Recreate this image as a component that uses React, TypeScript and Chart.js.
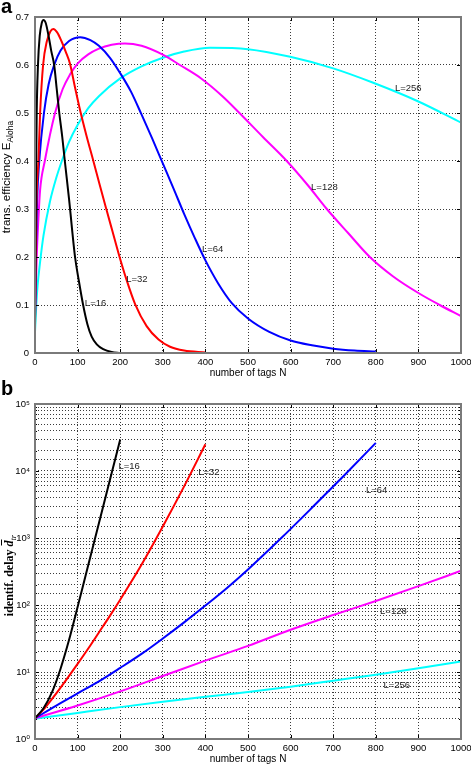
import React, { useEffect, useRef } from 'react';
import { Chart, registerables } from 'chart.js';

Chart.register(...registerables);

const SANS = '"Liberation Sans", Arial, "DejaVu Sans", sans-serif';
const SERIF = '"Liberation Serif", "Times New Roman", "DejaVu Serif", serif';

// ---------- Panel a: transmission efficiency ----------
const xTicksN = [0, 100, 200, 300, 400, 500, 600, 700, 800, 900, 1000];

const effN16 = [0, 2, 4, 7, 11, 16, 20, 25, 32, 38, 45, 51, 57, 64, 70, 80, 94, 103, 113, 123, 133, 145, 160, 180, 200];
const effE16 = [0.05, 0.33, 0.5, 0.6, 0.66, 0.688, 0.694, 0.688, 0.66, 0.63, 0.6, 0.55, 0.5, 0.45, 0.4, 0.32, 0.2, 0.15, 0.1, 0.06, 0.034, 0.018, 0.008, 0.002, 0.0];

const effN32 = [0, 3, 8, 12, 19, 28, 36, 43, 52, 62, 72, 82, 94, 106, 121, 137, 152, 168, 182, 196, 214, 235, 262, 290, 317, 350, 400];
const effE32 = [0.06, 0.3, 0.4, 0.5, 0.6, 0.65, 0.67, 0.675, 0.668, 0.65, 0.628, 0.603, 0.553, 0.505, 0.452, 0.4, 0.35, 0.298, 0.253, 0.208, 0.155, 0.102, 0.056, 0.028, 0.013, 0.005, 0.001];

const effN64 = [0, 2, 5, 10, 21, 32, 45, 60, 80, 106, 130, 150, 176, 200, 225, 250, 275, 300, 325, 350, 375, 400, 430, 462, 500, 550, 600, 650, 700, 750, 800];
const effE64 = [0.07, 0.2, 0.32, 0.4, 0.5, 0.56, 0.6, 0.63, 0.65, 0.658, 0.652, 0.64, 0.615, 0.583, 0.545, 0.497, 0.447, 0.395, 0.343, 0.29, 0.24, 0.193, 0.145, 0.104, 0.072, 0.044, 0.026, 0.016, 0.009, 0.005, 0.003];

const effN128 = [0, 4, 8, 12, 23, 47, 65, 82, 100, 125, 150, 180, 211, 250, 301, 340, 390, 440, 480, 535, 591, 640, 685, 735, 786, 840, 900, 950, 1000];
const effE128 = [0.08, 0.2, 0.28, 0.34, 0.4, 0.5, 0.55, 0.58, 0.603, 0.622, 0.634, 0.642, 0.645, 0.64, 0.621, 0.6, 0.572, 0.535, 0.5, 0.45, 0.4, 0.35, 0.3, 0.25, 0.2, 0.16, 0.125, 0.1, 0.077];

const effN256 = [0, 3, 6, 12, 20, 35, 50, 63, 80, 100, 125, 150, 200, 250, 300, 350, 411, 500, 599, 700, 794, 900, 1000];
const effE256 = [0.044, 0.1, 0.14, 0.19, 0.245, 0.315, 0.365, 0.4, 0.44, 0.475, 0.51, 0.535, 0.572, 0.597, 0.615, 0.628, 0.636, 0.633, 0.617, 0.593, 0.563, 0.524, 0.48];

const effYTicks = [0, 0.1, 0.2, 0.3, 0.4, 0.5, 0.6, 0.7];
const effLabelText = ['L=16', 'L=32', 'L=64', 'L=128', 'L=256'];
const effLabelN = [117, 214, 392, 648, 845];
const effLabelE = [0.104, 0.154, 0.215, 0.346, 0.552];

// ---------- Panel b: identification delay ----------
const delN16 = [0, 20, 40, 60, 80, 100, 120, 140, 160, 180, 200];
const delD16 = [2.04, 2.88, 5.0, 11.2, 30.2, 93, 295, 933, 2950, 9330, 29500];

const delN32 = [0, 25, 50, 75, 100, 125, 150, 175, 200, 250, 300, 350, 400];
const delD32 = [2.04, 3.0, 4.8, 7.9, 13.2, 22.4, 38.9, 67.6, 120, 398, 1480, 5890, 25100];

const delN64 = [0, 50, 100, 150, 200, 250, 300, 350, 400, 450, 500, 575, 650, 725, 800];
const delD64 = [2.04, 3.16, 4.79, 7.24, 11.5, 18.6, 31.6, 55, 98, 178, 339, 955, 2820, 8510, 26300];

const delN128 = [0, 100, 200, 300, 400, 500, 600, 700, 800, 900, 1000];
const delD128 = [2.04, 3.16, 5.13, 8.71, 14.8, 24.5, 42.7, 70.8, 115, 191, 324];

const delN256 = [0, 100, 200, 300, 400, 500, 600, 700, 800, 900, 1000];
const delD256 = [2.0, 2.45, 2.99, 3.59, 4.27, 5.01, 6.03, 7.41, 9.12, 11.35, 14.3];

const delLabelText = ['L=16', 'L=32', 'L=64', 'L=128', 'L=256'];
const delLabelN = [196, 383, 777, 810, 818];
const delLabelD = [11800, 9660, 5200, 79, 6.4];

const SUP = ['⁰', '¹', '²', '³', '⁴', '⁵', '⁶'];
const COLORS = ['#000000', '#ff0000', '#0000ff', '#ff00ff', '#00ffff'];

function makeDataset(xs: number[], ys: number[], color: string) {
  return {
    data: xs.map((x, i) => ({ x, y: ys[i] })),
    borderColor: color,
    backgroundColor: color,
    borderWidth: 2,
    pointRadius: 0,
    fill: false,
    cubicInterpolationMode: 'monotone' as const,
  };
}

type PanelOpts = {
  labels: string[];
  lx: number[];
  ly: number[];
  log: boolean;
  drawYTitle: (ctx: CanvasRenderingContext2D, cx: number, cy: number) => void;
  yTitleX: number;
  yTitleDY: number;
  letter: string;
  letterY: number;
};

function panelPlugin(o: PanelOpts) {
  return {
    id: 'panelDecor',
    afterDatasetsDraw(chart: any) {
      const { ctx, chartArea: a, scales } = chart;
      const xs = scales.x;
      const ys = scales.y;
      ctx.save();
      ctx.font = `9.5px ${SANS}`;
      ctx.fillStyle = '#222';
      ctx.textAlign = 'left';
      ctx.textBaseline = 'middle';
      o.labels.forEach((t, i) => {
        ctx.fillText(t, xs.getPixelForValue(o.lx[i]), ys.getPixelForValue(o.ly[i]));
      });
      ctx.strokeStyle = '#000';
      ctx.lineWidth = 1;
      ctx.beginPath();
      xs.ticks.forEach((t: any) => {
        const x = Math.round(xs.getPixelForValue(t.value)) + 0.5;
        ctx.moveTo(x, a.bottom);
        ctx.lineTo(x, a.bottom - 4);
        ctx.moveTo(x, a.top);
        ctx.lineTo(x, a.top + 4);
      });
      ys.ticks.forEach((t: any) => {
        let len = 4;
        if (o.log) {
          const l = Math.log10(t.value);
          len = Math.abs(l - Math.round(l)) < 1e-9 ? 4 : 2;
        }
        const y = Math.round(ys.getPixelForValue(t.value)) + 0.5;
        ctx.moveTo(a.left, y);
        ctx.lineTo(a.left + len, y);
        ctx.moveTo(a.right, y);
        ctx.lineTo(a.right - len, y);
      });
      ctx.stroke();
      ctx.strokeStyle = '#7a7a7a';
      ctx.lineWidth = 2;
      ctx.strokeRect(a.left, a.top, a.right - a.left, a.bottom - a.top);
      ctx.fillStyle = '#000';
      ctx.font = `10px ${SANS}`;
      ctx.textAlign = 'center';
      ctx.textBaseline = 'middle';
      ctx.fillText('number of tags N', (a.left + a.right) / 2, a.bottom + 20);
      o.drawYTitle(ctx, o.yTitleX, (a.top + a.bottom) / 2 + o.yTitleDY);
      ctx.font = `bold 20px ${SANS}`;
      ctx.textAlign = 'left';
      ctx.textBaseline = 'alphabetic';
      ctx.fillStyle = '#000';
      ctx.fillText(o.letter, 1, o.letterY);
      ctx.restore();
    },
  };
}

function drawEffTitle(ctx: CanvasRenderingContext2D, cx: number, cy: number) {
  const main = 'trans. efficiency E';
  const sub = 'Aloha';
  ctx.save();
  ctx.translate(cx, cy);
  ctx.rotate(-Math.PI / 2);
  ctx.fillStyle = '#000';
  ctx.textAlign = 'left';
  ctx.textBaseline = 'alphabetic';
  ctx.font = `11.5px ${SANS}`;
  const w1 = ctx.measureText(main).width;
  ctx.font = `8.5px ${SANS}`;
  const w2 = ctx.measureText(sub).width;
  const start = -(w1 + w2) / 2;
  ctx.font = `11.5px ${SANS}`;
  ctx.fillText(main, start, 4);
  ctx.font = `8.5px ${SANS}`;
  ctx.fillText(sub, start + w1, 7);
  ctx.restore();
}

function drawDelayTitle(ctx: CanvasRenderingContext2D, cx: number, cy: number) {
  const main = 'identif. delay ';
  ctx.save();
  ctx.translate(cx, cy);
  ctx.rotate(-Math.PI / 2);
  ctx.fillStyle = '#000';
  ctx.strokeStyle = '#000';
  ctx.textAlign = 'left';
  ctx.textBaseline = 'alphabetic';
  ctx.font = `bold 12px ${SERIF}`;
  const w1 = ctx.measureText(main).width;
  ctx.font = `italic bold 12px ${SERIF}`;
  const wd = ctx.measureText('d').width;
  ctx.font = `italic 8.5px ${SERIF}`;
  const ws = ctx.measureText('tr').width;
  const start = -(w1 + wd + ws) / 2;
  ctx.font = `bold 12px ${SERIF}`;
  ctx.fillText(main, start, 4);
  ctx.font = `italic bold 12px ${SERIF}`;
  ctx.fillText('d', start + w1, 4);
  ctx.lineWidth = 1;
  ctx.beginPath();
  ctx.moveTo(start + w1 + 1, -7.5);
  ctx.lineTo(start + w1 + wd + 1, -7.5);
  ctx.stroke();
  ctx.font = `italic 8.5px ${SERIF}`;
  ctx.fillText('tr', start + w1 + wd, 7);
  ctx.restore();
}

const GRID = {
  color: '#3a3a3a',
  lineWidth: 1,
  drawTicks: false,
};

function xScale(height: number): any {
  return {
    type: 'linear',
    min: xTicksN[0],
    max: xTicksN[xTicksN.length - 1],
    afterBuildTicks: (s: any) => { s.ticks = xTicksN.map((v) => ({ value: v })); },
    ticks: { font: { family: SANS, size: 9.5 }, color: '#000', padding: 4, maxRotation: 0, autoSkip: false, callback: (v: any) => String(v) },
    grid: GRID,
    border: { display: false, dash: [1, 2] },
    afterFit: (s: any) => { s.height = height; s.paddingLeft = 0; s.paddingRight = 0; },
  };
}

function configA(): any {
  return {
    type: 'line',
    data: {
      datasets: [
        makeDataset(effN16, effE16, COLORS[0]),
        makeDataset(effN32, effE32, COLORS[1]),
        makeDataset(effN64, effE64, COLORS[2]),
        makeDataset(effN128, effE128, COLORS[3]),
        makeDataset(effN256, effE256, COLORS[4]),
      ],
    },
    options: {
      animation: false,
      responsive: false,
      devicePixelRatio: 1,
      events: [],
      layout: { padding: { left: 0, right: 10, top: 17, bottom: 0 } },
      plugins: { legend: { display: false }, tooltip: { enabled: false } },
      scales: {
        x: xScale(25),
        y: {
          type: 'linear',
          min: effYTicks[0],
          max: effYTicks[effYTicks.length - 1],
          afterBuildTicks: (s: any) => { s.ticks = effYTicks.map((v) => ({ value: v })); },
          ticks: { font: { family: SANS, size: 9.5 }, color: '#000', padding: 6, autoSkip: false, callback: (v: any) => String(Number(Number(v).toFixed(1))) },
          grid: GRID,
          border: { display: false, dash: [1, 2] },
          afterFit: (s: any) => { s.width = 35; s.paddingTop = 0; s.paddingBottom = 0; },
        },
      },
    },
    plugins: [
      panelPlugin({
        labels: effLabelText, lx: effLabelN, ly: effLabelE, log: false,
        drawYTitle: drawEffTitle, yTitleX: 6, yTitleDY: -8, letter: 'a', letterY: 13,
      }),
    ],
  };
}

function configB(): any {
  return {
    type: 'line',
    data: {
      datasets: [
        makeDataset(delN16, delD16, COLORS[0]),
        makeDataset(delN32, delD32, COLORS[1]),
        makeDataset(delN64, delD64, COLORS[2]),
        makeDataset(delN128, delD128, COLORS[3]),
        makeDataset(delN256, delD256, COLORS[4]),
      ],
    },
    options: {
      animation: false,
      responsive: false,
      devicePixelRatio: 1,
      events: [],
      layout: { padding: { left: 0, right: 10, top: 26, bottom: 0 } },
      plugins: { legend: { display: false }, tooltip: { enabled: false } },
      scales: {
        x: xScale(26),
        y: {
          type: 'logarithmic',
          min: 1,
          max: 100000,
          ticks: {
            font: { family: SANS, size: 9.5 }, color: '#000', padding: 5, autoSkip: false,
            callback: (v: any) => {
              const l = Math.log10(Number(v));
              const r = Math.round(l);
              return Math.abs(l - r) < 1e-9 ? '10' + SUP[r] : '';
            },
          },
          grid: GRID,
          border: { display: false, dash: [1, 2] },
          afterFit: (s: any) => { s.width = 35; s.paddingTop = 0; s.paddingBottom = 0; },
        },
      },
    },
    plugins: [
      panelPlugin({
        labels: delLabelText, lx: delLabelN, ly: delLabelD, log: true,
        drawYTitle: drawDelayTitle, yTitleX: 9, yTitleDY: 4, letter: 'b', letterY: 17,
      }),
    ],
  };
}

export default function App() {
  const refA = useRef<HTMLCanvasElement>(null);
  const refB = useRef<HTMLCanvasElement>(null);
  useEffect(() => {
    const ca = new Chart(refA.current as HTMLCanvasElement, configA());
    const cb = new Chart(refB.current as HTMLCanvasElement, configB());
    return () => {
      ca.destroy();
      cb.destroy();
    };
  }, []);
  return (
    <div style={{ position: 'fixed', left: 0, top: 0, width: 471, height: 765, background: '#fff', overflow: 'hidden' }}>
      <canvas ref={refA} width={471} height={378} style={{ position: 'absolute', left: 0, top: 0, width: 471, height: 378 }} />
      <canvas ref={refB} width={471} height={387} style={{ position: 'absolute', left: 0, top: 378, width: 471, height: 387 }} />
    </div>
  );
}
